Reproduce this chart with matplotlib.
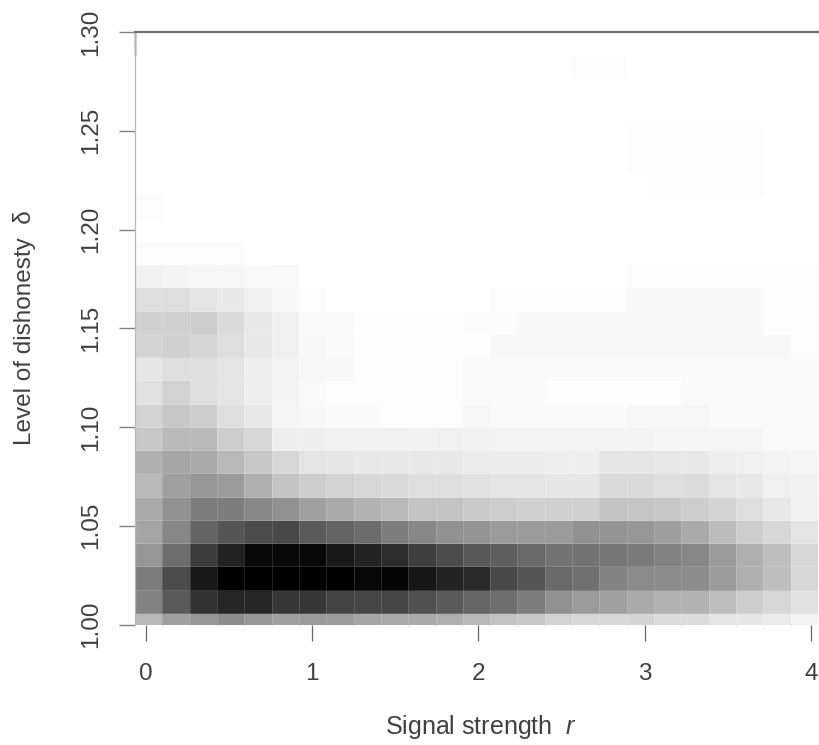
import matplotlib
matplotlib.use("Agg")
import matplotlib.pyplot as plt
import numpy as np

plt.rcParams["font.family"] = ["Liberation Sans", "DejaVu Sans"]
plt.rcParams["mathtext.fontset"] = "custom"
plt.rcParams["mathtext.it"] = "Liberation Sans:italic"
plt.rcParams["mathtext.rm"] = "Liberation Sans"

# darkness of each cell (0 white .. 255 black), one list per delta row, bottom row first
row00 = [70, 95, 105, 115, 105, 95, 100, 100, 90, 85, 85, 80, 70, 60, 55, 45, 40, 40, 43, 35, 35, 27, 25, 20, 12]
row01 = [125, 165, 205, 217, 217, 200, 200, 187, 185, 185, 175, 165, 153, 145, 130, 110, 100, 95, 85, 77, 77, 65, 50, 40, 30]
row02 = [130, 180, 230, 255, 255, 255, 255, 255, 247, 250, 233, 220, 213, 183, 170, 150, 143, 125, 117, 117, 115, 100, 80, 65, 40]
row03 = [105, 145, 195, 222, 247, 247, 247, 230, 220, 210, 193, 180, 167, 160, 150, 140, 140, 137, 133, 125, 120, 100, 80, 65, 40]
row04 = [90, 120, 155, 170, 180, 183, 165, 155, 147, 130, 120, 110, 107, 100, 100, 100, 110, 107, 105, 97, 85, 67, 50, 40, 27]
row05 = [85, 110, 130, 130, 120, 110, 95, 85, 77, 70, 60, 60, 53, 50, 47, 47, 47, 60, 58, 57, 50, 43, 33, 23, 15]
row06 = [70, 95, 105, 100, 80, 60, 50, 45, 40, 37, 33, 33, 30, 27, 27, 25, 25, 37, 37, 33, 35, 27, 23, 15, 13]
row07 = [80, 90, 85, 70, 55, 40, 27, 25, 23, 23, 23, 23, 20, 19, 19, 17, 17, 25, 25, 23, 23, 17, 15, 12, 10]
row08 = [55, 70, 70, 50, 40, 17, 17, 15, 15, 15, 13, 15, 13, 12, 12, 12, 12, 12, 12, 10, 10, 10, 10, 5, 5]
row09 = [45, 55, 50, 32, 23, 10, 7, 5, 5, 3, 3, 3, 9, 5, 5, 5, 5, 5, 9, 9, 9, 5, 5, 5, 5]
row10 = [30, 45, 33, 27, 17, 12, 5, 3, 3, 3, 3, 3, 5, 5, 5, 1, 1, 1, 1, 1, 5, 5, 5, 5, 5]
row11 = [25, 33, 33, 27, 17, 12, 7, 7, 3, 3, 3, 3, 5, 5, 5, 5, 5, 5, 5, 5, 5, 5, 5, 5, 5]
row12 = [43, 47, 41, 33, 23, 15, 7, 5, 2, 2, 2, 2, 2, 7, 7, 7, 7, 7, 7, 7, 7, 7, 7, 7, 3]
row13 = [47, 47, 50, 37, 23, 15, 5, 5, 1, 1, 3, 3, 4, 4, 7, 7, 7, 7, 7, 7, 7, 7, 7, 3, 3]
row14 = [33, 33, 27, 23, 15, 7, 3, 0, 0, 0, 0, 0, 0, 3, 3, 3, 3, 3, 7, 7, 7, 7, 7, 3, 3]
row15 = [13, 11, 9, 9, 6, 5, 0, 0, 0, 0, 0, 0, 0, 0, 0, 0, 0, 0, 3, 3, 3, 3, 3, 3, 3]
row16 = [3, 3, 3, 3, 0, 0, 0, 0, 0, 0, 0, 0, 0, 0, 0, 0, 0, 0, 0, 0, 0, 0, 0, 0, 0]
row17 = [0, 0, 0, 0, 0, 0, 0, 0, 0, 0, 0, 0, 0, 0, 0, 0, 0, 0, 0, 0, 0, 0, 0, 0, 0]
row18 = [3, 0, 0, 0, 0, 0, 0, 0, 0, 0, 0, 0, 0, 0, 0, 0, 0, 0, 0, 0, 0, 0, 0, 0, 0]
row19 = [0, 0, 0, 0, 0, 0, 0, 0, 0, 0, 0, 0, 0, 0, 0, 0, 0, 0, 0, 2, 2, 2, 2, 0, 0]
row20 = [0, 0, 0, 0, 0, 0, 0, 0, 0, 0, 0, 0, 0, 0, 0, 0, 0, 0, 2, 2, 2, 2, 2, 0, 0]
row21 = [0, 0, 0, 0, 0, 0, 0, 0, 0, 0, 0, 0, 0, 0, 0, 0, 0, 0, 2, 2, 2, 2, 2, 0, 0]
row22 = [0, 0, 0, 0, 0, 0, 0, 0, 0, 0, 0, 0, 0, 0, 0, 0, 0, 0, 0, 0, 0, 0, 0, 0, 0]
row23 = [0, 0, 0, 0, 0, 0, 0, 0, 0, 0, 0, 0, 0, 0, 0, 0, 0, 0, 0, 0, 0, 0, 0, 0, 0]
row24 = [0, 0, 0, 0, 0, 0, 0, 0, 0, 0, 0, 0, 0, 0, 0, 0, 3, 3, 0, 0, 0, 0, 0, 0, 0]
row25 = [0, 0, 0, 0, 0, 0, 0, 0, 0, 0, 0, 0, 0, 0, 0, 0, 0, 0, 0, 0, 0, 0, 0, 0, 0]

x_ticks = [0, 1, 2, 3, 4]
y_ticks = [1.00, 1.05, 1.10, 1.15, 1.20, 1.25, 1.30]
y_labels = ["1.00", "1.05", "1.10", "1.15", "1.20", "1.25", "1.30"]

density = np.array([
    row00, row01, row02, row03, row04, row05, row06, row07, row08, row09, row10, row11, row12,
    row13, row14, row15, row16, row17, row18, row19, row20, row21, row22, row23, row24, row25,
])

r_edges = np.linspace(-0.064, 4.04, density.shape[1] + 1)
delta_edges = 1.0 + (np.arange(density.shape[0] + 1) - 0.5) * 0.01177

fig = plt.figure(figsize=(8.19, 7.45), dpi=100)
ax = fig.add_axes([135 / 819, 1 - 624.5 / 745, 683 / 819, 592.5 / 745])

ax.pcolormesh(r_edges, delta_edges, density, cmap="gray_r", vmin=0, vmax=255,
              edgecolors=(1, 1, 1, 0.14), linewidth=0.7)
ax.set_xlim(r_edges[0], r_edges[-1])
ax.set_ylim(1.0, 1.30)

for side in ["right", "bottom"]:
    ax.spines[side].set_visible(False)
ax.spines["top"].set_color("0.45")
ax.spines["top"].set_linewidth(1.6)
ax.spines["left"].set_color("0.72")
ax.spines["left"].set_linewidth(0.9)

ax.set_xticks(x_ticks)
ax.set_xticks(r_edges[1:-1], minor=True)
ax.set_yticks(y_ticks)
ax.set_yticklabels(y_labels, rotation=90, va="center")
ax.tick_params(axis="x", which="major", length=11.5, width=0.9, color="0.4",
               labelsize=17.5, labelcolor="0.25", pad=16)
ax.tick_params(axis="x", which="minor", length=1, width=0.6, color="0.75")
ax.tick_params(axis="y", length=11.5, width=1.0, color="0.5",
               labelsize=17.5, labelcolor="0.25", pad=12)

# the darker stub just under the top line
ax.vlines(r_edges[0], delta_edges[-2], 1.30, color="0.15", lw=1.0, clip_on=False)

fig.text(480.5 / 819, 1 - 727 / 745, "Signal strength  $r$", ha="center", va="center",
         fontsize=18, color="0.25")
fig.text(25 / 819, 1 - 328 / 745, "Level of dishonesty  δ", ha="center", va="center",
         rotation=90, fontsize=17.5, color="0.25")

fig.savefig("out.png", dpi=100)
